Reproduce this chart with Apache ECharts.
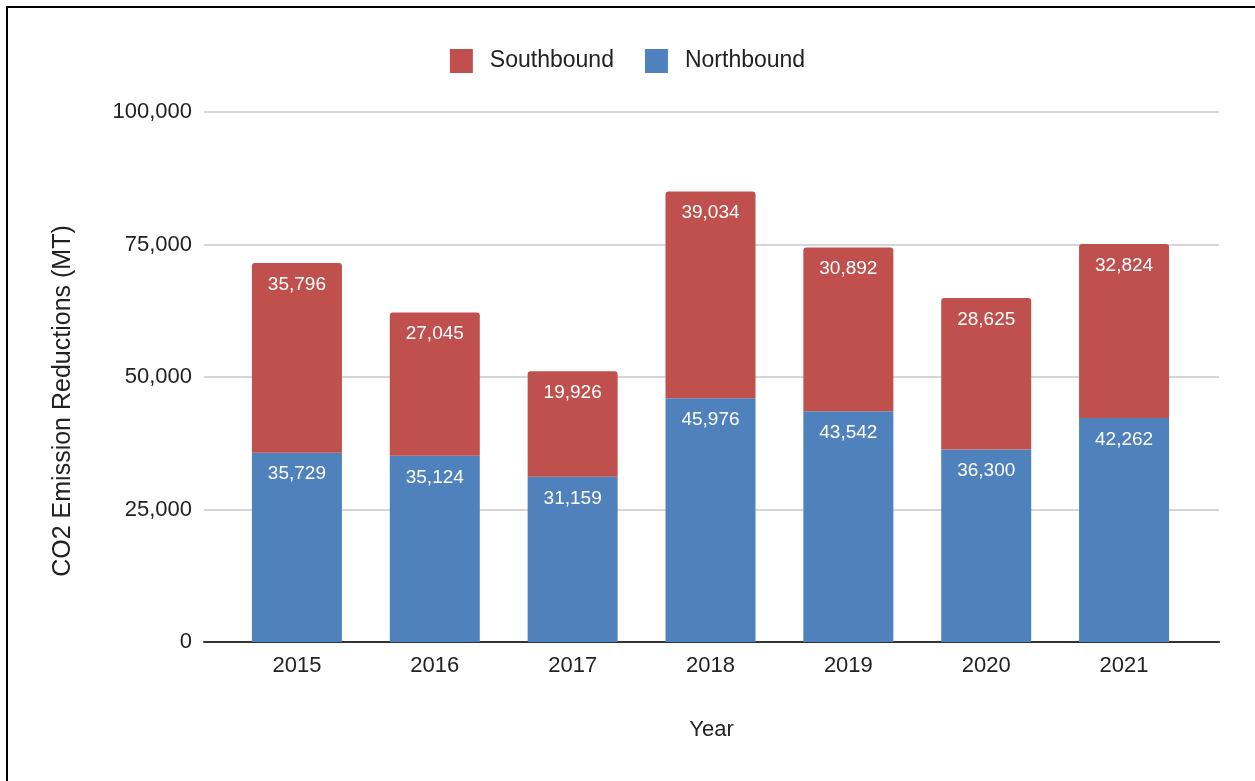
<!DOCTYPE html>
<html lang="en">
<head>
    <meta charset="UTF-8">
    <title>CO2 Emission Reductions</title>
    <script src="https://cdn.jsdelivr.net/npm/echarts@6/dist/echarts.min.js"></script>
    <style>
        html, body { margin: 0; padding: 0; background: #fff; }
        #frame {
            position: absolute;
            left: 6px; top: 6px;
            width: 1249px; height: 775px;
            border-left: 2px solid #000;
            border-top: 2px solid #000;
            box-sizing: border-box;
        }
        #chart { position: absolute; left: 0; top: 0; width: 1255px; height: 781px; }
    </style>
</head>
<body>
    <div id="frame"></div>
    <div id="chart"></div>
    <script>
        const years = ['2015', '2016', '2017', '2018', '2019', '2020', '2021'];
        const southbound = [35796, 27045, 19926, 39034, 30892, 28625, 32824];
        const northbound = [35729, 35124, 31159, 45976, 43542, 36300, 42262];

        const fmt = v => Number(v).toLocaleString('en-US');
        const font = 'Liberation Sans, Arial, sans-serif';

        const chart = echarts.init(document.getElementById('chart'));
        const option = {
            animation: false,
            textStyle: { fontFamily: font },
            legend: {
                data: ['Southbound', 'Northbound'],
                top: 44,
                left: 'center',
                itemWidth: 23,
                itemHeight: 24,
                itemGap: 31,
                icon: 'rect',
                textStyle: { fontSize: 23, color: '#222', fontFamily: font, padding: [0, 0, 0, 12] }
            },
            // outer grid: gridlines, y labels, axis line; inner grid: the bars
            grid: [
                { left: 204, right: 36, top: 112, bottom: 139 },
                { left: 228, right: 62, top: 112, bottom: 139 }
            ],
            xAxis: [
                {
                    gridIndex: 0, type: 'value', min: 0, max: 1,
                    axisLine: { show: true, onZero: false, lineStyle: { color: '#333', width: 2 } },
                    axisTick: { show: false }, axisLabel: { show: false }, splitLine: { show: false },
                    name: 'Year', nameLocation: 'middle', nameGap: 77,
                    nameTextStyle: { fontSize: 22, color: '#222' }
                },
                {
                    gridIndex: 1, type: 'category', data: years,
                    axisLine: { show: false }, axisTick: { show: false },
                    axisLabel: { fontSize: 22, color: '#222', margin: 13 }
                }
            ],
            yAxis: [
                {
                    gridIndex: 0, type: 'value', min: 0, max: 100000, interval: 25000,
                    axisLine: { show: false }, axisTick: { show: false },
                    splitLine: { lineStyle: { color: '#d6d6d6', width: 2 } },
                    axisLabel: { fontSize: 22, color: '#222', margin: 12, formatter: fmt }
                },
                {
                    gridIndex: 1, type: 'value', min: 0, max: 100000, interval: 25000,
                    axisLine: { show: false }, axisTick: { show: false },
                    splitLine: { show: false }, axisLabel: { show: false }
                }
            ],
            graphic: [{
                type: 'text',
                x: 63, y: 401,
                rotation: Math.PI / 2,
                style: {
                    text: 'CO2 Emission Reductions (MT)',
                    fontSize: 25, fontFamily: font, fill: '#222',
                    textAlign: 'center', textVerticalAlign: 'middle'
                }
            }],
            series: [
                {
                    name: 'Northbound',
                    type: 'bar', xAxisIndex: 1, yAxisIndex: 1,
                    stack: 'total',
                    data: northbound,
                    barWidth: 90,
                    itemStyle: { color: '#4f81bd' },
                    label: {
                        show: true, position: 'insideTop', distance: 12,
                        color: '#fff', fontSize: 19, formatter: p => fmt(p.value)
                    }
                },
                {
                    name: 'Southbound',
                    type: 'bar', xAxisIndex: 1, yAxisIndex: 1,
                    stack: 'total',
                    data: southbound,
                    barWidth: 90,
                    itemStyle: { color: '#c0504d', borderRadius: [3, 3, 0, 0] },
                    label: {
                        show: true, position: 'insideTop', distance: 12,
                        color: '#fff', fontSize: 19, formatter: p => fmt(p.value)
                    }
                }
            ]
        };
        chart.setOption(option);
    </script>
</body>
</html>
